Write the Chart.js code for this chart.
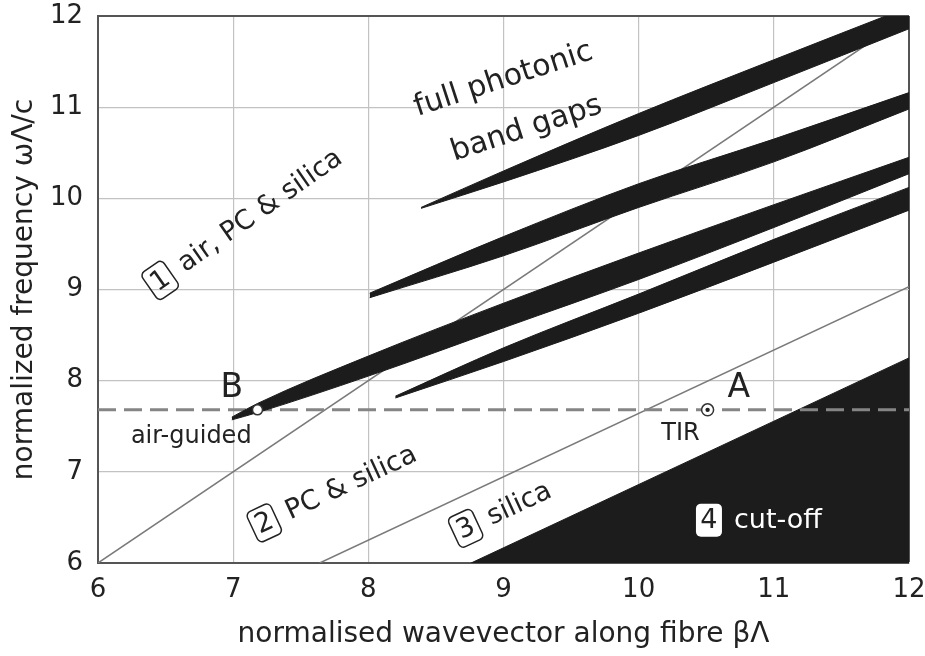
<!DOCTYPE html>
<html>
<head>
<meta charset="utf-8">
<script src="https://cdn.jsdelivr.net/npm/chart.js@4.4.1/dist/chart.umd.min.js"></script>
<style>
  html, body { margin: 0; padding: 0; background: #fff; }
  #wrap { width: 925px; height: 656px; }
</style>
</head>
<body>
<div id="wrap"><canvas id="bandChart" width="925" height="656"></canvas></div>
<script>
// thin light-lines and the cut-off edge (x = beta*Lambda, y = omega*Lambda/c)
var airLineX = [6, 12];
var airLineY = [6, 12];
var pcLineX = [7.64, 12];
var pcLineY = [6, 9.03];
var cutoffX = [8.76, 12];
var cutoffY = [6, 8.25];

// dashed operating frequency and the two marked points
var freqLevel = 7.68;
var pointBX = 7.18;
var pointAX = 10.51;

// full photonic band gaps: upper and lower edge of each band
var band1X  = [8.39, 9, 10, 11, 12];
var band1Hi = [9.90, 10.30, 10.93, 11.52, 12.10];
var band1Lo = [9.89, 10.18, 10.69, 11.27, 11.86];

var band2X  = [8.01, 9, 10, 11, 12];
var band2Hi = [8.96, 9.58, 10.16, 10.65, 11.16];
var band2Lo = [8.91, 9.37, 9.90, 10.40, 10.98];

var band3X  = [6.99, 7.18, 8, 9, 10, 11, 12];
var band3Hi = [7.60, 7.75, 8.27, 8.85, 9.40, 9.93, 10.45];
var band3Lo = [7.57, 7.65, 8.05, 8.58, 9.11, 9.68, 10.27];

var band4X  = [8.20, 9, 10, 11, 12];
var band4Hi = [7.83, 8.36, 8.95, 9.55, 10.12];
var band4Lo = [7.81, 8.21, 8.74, 9.30, 9.87];

var tickValues = [6, 7, 8, 9, 10, 11, 12];
var regionNums = ['1', '2', '3', '4'];
var regionNames = ['air, PC & silica', 'PC & silica', 'silica', 'cut-off'];
var gapTitle = ['full photonic', 'band gaps'];

var ink = '#1c1c1c';
var lineGray = '#7a7a7a';

function pts(xs, ys) {
  return xs.map(function (x, i) { return { x: x, y: ys[i] }; });
}

function bandSets(xs, hi, lo) {
  return [
    { data: pts(xs, hi), borderColor: ink, backgroundColor: ink, borderWidth: 1, fill: '+1', pointRadius: 0, cubicInterpolationMode: 'monotone', order: 1 },
    { data: pts(xs, lo), borderColor: ink, backgroundColor: ink, borderWidth: 1, fill: false, pointRadius: 0, cubicInterpolationMode: 'monotone', order: 1 }
  ];
}

var datasets = [];
datasets.push({ data: pts(cutoffX, cutoffY), borderColor: ink, backgroundColor: ink, borderWidth: 1, fill: 'start', pointRadius: 0, order: 5 });
datasets.push({ data: pts(airLineX, airLineY), borderColor: lineGray, borderWidth: 1.5, fill: false, pointRadius: 0, order: 4 });
datasets.push({ data: pts(pcLineX, pcLineY), borderColor: lineGray, borderWidth: 1.5, fill: false, pointRadius: 0, order: 4 });
datasets.push({ data: [{ x: 6, y: freqLevel }, { x: 12, y: freqLevel }], borderColor: '#858585', borderWidth: 3, borderDash: [18, 8], fill: false, pointRadius: 0, order: 3 });
datasets = datasets.concat(bandSets(band1X, band1Hi, band1Lo));
datasets = datasets.concat(bandSets(band2X, band2Hi, band2Lo));
datasets = datasets.concat(bandSets(band3X, band3Hi, band3Lo));
datasets = datasets.concat(bandSets(band4X, band4Hi, band4Lo));
datasets.push({ data: [{ x: pointBX, y: freqLevel }], showLine: false, pointRadius: 5, pointBackgroundColor: '#fff', pointBorderColor: '#333', pointBorderWidth: 1.5, order: 0 });
datasets.push({ data: [{ x: pointAX, y: freqLevel }], showLine: false, pointRadius: 6, pointBackgroundColor: '#fff', pointBorderColor: '#333', pointBorderWidth: 1.5, order: 0 });
datasets.push({ data: [{ x: pointAX, y: freqLevel }], showLine: false, pointRadius: 2.2, pointBackgroundColor: '#222', pointBorderWidth: 0, order: -1 });

var labelFont = '"DejaVu Sans", "Liberation Sans", sans-serif';

function roundBox(ctx, cx, cy, w, h, r) {
  ctx.beginPath();
  ctx.moveTo(cx - w / 2 + r, cy - h / 2);
  ctx.arcTo(cx + w / 2, cy - h / 2, cx + w / 2, cy + h / 2, r);
  ctx.arcTo(cx + w / 2, cy + h / 2, cx - w / 2, cy + h / 2, r);
  ctx.arcTo(cx - w / 2, cy + h / 2, cx - w / 2, cy - h / 2, r);
  ctx.arcTo(cx - w / 2, cy - h / 2, cx + w / 2, cy - h / 2, r);
  ctx.closePath();
}

var labelsPlugin = {
  id: 'regionLabels',
  afterDatasetsDraw: function (chart) {
    var ctx = chart.ctx;
    var xs = chart.scales.x, ys = chart.scales.y;
    function px(v) { return xs.getPixelForValue(v); }
    function py(v) { return ys.getPixelForValue(v); }

    // numbered region labels, rotated along the light lines
    var regions = [
      { x: 6.46, y: 9.10, rot: -35, dark: false },
      { x: 7.23, y: 6.44, rot: -25, dark: false },
      { x: 8.72, y: 6.38, rot: -25, dark: false },
      { x: 10.52, y: 6.47, rot: 0, dark: true }
    ];
    regions.forEach(function (r, i) {
      ctx.save();
      ctx.translate(px(r.x), py(r.y));
      ctx.rotate(r.rot * Math.PI / 180);
      roundBox(ctx, 0, 0, 26, 33, 5);
      if (r.dark) {
        ctx.fillStyle = '#fff';
        ctx.fill();
      } else {
        ctx.lineWidth = 1.5;
        ctx.strokeStyle = '#222';
        ctx.stroke();
      }
      ctx.fillStyle = '#222';
      ctx.font = '27px ' + labelFont;
      ctx.textAlign = 'center';
      ctx.textBaseline = 'middle';
      ctx.fillText(regionNums[i], 0, 1);
      ctx.fillStyle = r.dark ? '#fff' : '#222';
      ctx.textAlign = 'left';
      ctx.fillText(regionNames[i], 25, 1);
      ctx.restore();
    });

    // band gap title
    ctx.save();
    ctx.fillStyle = '#222';
    ctx.font = '30px ' + labelFont;
    ctx.textAlign = 'center';
    ctx.textBaseline = 'middle';
    [[9.0, 11.30], [9.17, 10.76]].forEach(function (p, i) {
      ctx.save();
      ctx.translate(px(p[0]), py(p[1]));
      ctx.rotate(-18 * Math.PI / 180);
      ctx.fillText(gapTitle[i], 0, 0);
      ctx.restore();
    });

    // point letters and small notes
    ctx.font = '33px ' + labelFont;
    ctx.fillText('B', px(6.99), py(7.91));
    ctx.fillText('A', px(10.74), py(7.91));
    ctx.font = '24px ' + labelFont;
    ctx.fillText('air-guided', px(6.69), py(7.38));
    ctx.fillText('TIR', px(10.31), py(7.42));
    ctx.restore();
  }
};

function gridColor(c) { return c.tick && c.tick.value === 12 ? '#555' : '#c2c2c2'; }
function gridWidth(c) { return c.tick && c.tick.value === 12 ? 2 : 1.2; }

new Chart(document.getElementById('bandChart'), {
  type: 'line',
  data: { datasets: datasets },
  plugins: [labelsPlugin],
  options: {
    responsive: false,
    animation: false,
    layout: { padding: { top: 16, right: 16, left: 0, bottom: 0 } },
    plugins: { legend: { display: false }, tooltip: { enabled: false } },
    elements: { line: { tension: 0 } },
    scales: {
      x: {
        type: 'linear',
        min: 6,
        max: 12,
        afterFit: function (scale) {
          scale.height = 93;
          scale.paddingLeft = 0;
          scale.paddingRight = 0;
        },
        afterBuildTicks: function (scale) { scale.ticks = tickValues.map(function (v) { return { value: v }; }); },
        grid: { drawTicks: false, color: gridColor, lineWidth: gridWidth },
        border: { color: '#555', width: 2 },
        ticks: { padding: 12, color: '#222', font: { family: labelFont, size: 26 } },
        title: {
          display: true,
          text: 'normalised wavevector along fibre βΛ',
          color: '#222',
          font: { family: labelFont, size: 28 },
          padding: { top: 0, bottom: 4 }
        }
      },
      y: {
        type: 'linear',
        min: 6,
        max: 12,
        afterFit: function (scale) {
          scale.width = 98;
          scale.paddingTop = 0;
          scale.paddingBottom = 0;
        },
        afterBuildTicks: function (scale) { scale.ticks = tickValues.map(function (v) { return { value: v }; }); },
        grid: { drawTicks: false, color: gridColor, lineWidth: gridWidth },
        border: { color: '#555', width: 2 },
        ticks: { padding: 15, color: '#222', font: { family: labelFont, size: 26 } },
        title: {
          display: true,
          text: 'normalized frequency ωΛ/c',
          color: '#222',
          font: { family: labelFont, size: 28 },
          padding: { top: 8, bottom: 0 }
        }
      }
    }
  }
});
</script>
</body>
</html>
